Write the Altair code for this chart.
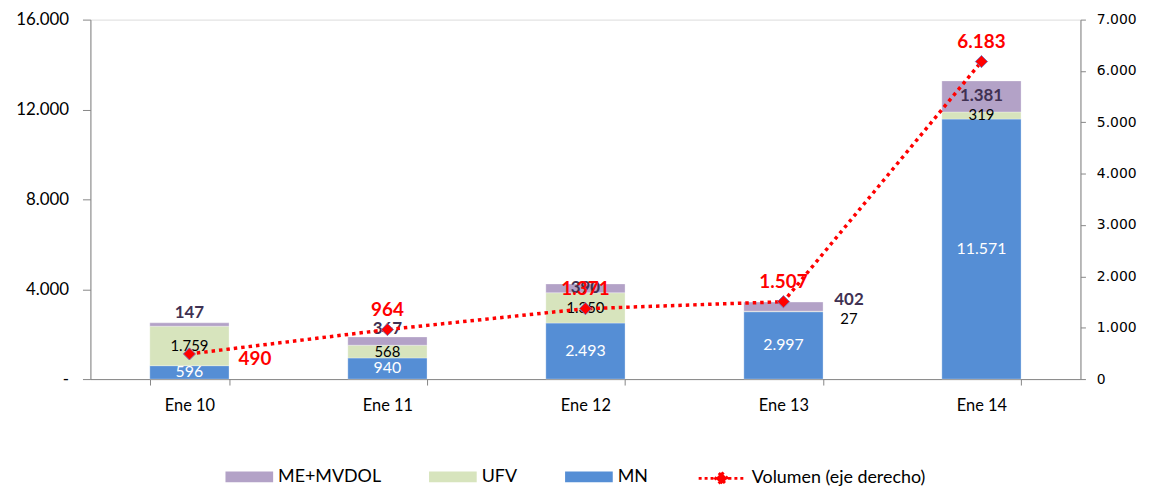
import altair as alt
import pandas as pd

categories = ["Ene 10", "Ene 11", "Ene 12", "Ene 13", "Ene 14"]
mn = [596, 940, 2493, 2997, 11571]
ufv = [1759, 568, 1350, 27, 319]
me = [147, 367, 390, 402, 1381]
volumen = [490, 964, 1371, 1507, 6183]
series_names = ["ME+MVDOL", "UFV", "MN"]
series_colors = ["#b3a2c7", "#d7e4bd", "#558ed5"]
line_name = "Volumen (eje derecho)"
left_ticks = [0, 4000, 8000, 12000, 16000]
right_ticks = [0, 1000, 2000, 3000, 4000, 5000, 6000, 7000]


def fmt(v):
    return f"{v:,}".replace(",", ".")


rows = []
for i, c in enumerate(categories):
    base = 0
    for name, vals, order in [("MN", mn, 0), ("UFV", ufv, 1), ("ME+MVDOL", me, 2)]:
        v = vals[i]
        rows.append(dict(cat=c, serie=name, value=v, y0=base, y1=base + v,
                         mid=base + v / 2, ord=order, label=fmt(v)))
        base += v
bars_df = pd.DataFrame(rows)
line_df = pd.DataFrame({"cat": categories, "vol": volumen,
                        "label": [fmt(v) for v in volumen],
                        "s": [line_name] * len(categories)})

FONT = "Lato"
xscale = alt.Scale(domain=categories, paddingInner=0.6, paddingOuter=0.3)
x_enc = alt.X("cat:N", scale=xscale, sort=categories,
              axis=alt.Axis(title=None, labelAngle=0, tickBand="extent", tickSize=6,
                            domainColor="#868686", tickColor="#868686",
                            labelFont=FONT, labelFontSize=16.5, labelColor="#000000",
                            labelPadding=13))
yl_scale = alt.Scale(domain=[0, 16000], nice=False)
yr_scale = alt.Scale(domain=[0, 7000], nice=False)

base_b = alt.Chart(bars_df)
bar = base_b.mark_bar(stroke="#ffffff", strokeWidth=0.5, strokeOpacity=0.6).encode(
    x=x_enc,
    y=alt.Y("y0:Q", scale=yl_scale,
            axis=alt.Axis(title=None, values=left_ticks, grid=False, tickSize=8,
                          domainColor="#868686", tickColor="#868686",
                          labelFont=FONT, labelFontSize=17, labelColor="#000000",
                          labelPadding=14,
                          labelExpr="datum.value == 0 ? '-' : replace(format(datum.value, ','), ',', '.')")),
    y2="y1:Q",
    color=alt.Color("serie:N", scale=alt.Scale(domain=series_names, range=series_colors),
                    legend=alt.Legend(title=None, orient="none", direction="horizontal",
                                      legendX=136, legendY=436.5,
                                      symbolType="M-1,-0.229H1V0.229H-1Z", symbolSize=2304,
                                      symbolStrokeWidth=0, symbolOpacity=1,
                                      labelFont=FONT, labelFontSize=18, labelColor="#000000",
                                      labelOffset=5, columnPadding=48, labelLimit=300)),
    order=alt.Order("ord:Q"),
)

mn_text = base_b.transform_filter(alt.datum.serie == "MN").mark_text(
    font=FONT, fontSize=16, color="#ffffff").encode(
    x=alt.X("cat:N", scale=xscale, sort=categories),
    y=alt.Y("mid:Q", title=None), text="label:N")

ufv_text = base_b.transform_filter(
    (alt.datum.serie == "UFV") & (alt.datum.cat != "Ene 13")).mark_text(
    font=FONT, fontSize=15, color="#000000").encode(
    x=alt.X("cat:N", scale=xscale, sort=categories),
    y=alt.Y("mid:Q", title=None), text="label:N")

ufv_text_side = base_b.transform_filter(
    (alt.datum.serie == "UFV") & (alt.datum.cat == "Ene 13")).mark_text(
    font=FONT, fontSize=15, color="#000000", dx=66, dy=8).encode(
    x=alt.X("cat:N", scale=xscale, sort=categories),
    y=alt.Y("mid:Q", title=None), text="label:N")

me_text_mid = base_b.transform_filter(
    (alt.datum.serie == "ME+MVDOL") & ((alt.datum.cat == "Ene 12") | (alt.datum.cat == "Ene 14"))).mark_text(
    font=FONT, fontSize=17, fontWeight="bold", color="#403152").encode(
    x=alt.X("cat:N", scale=xscale, sort=categories),
    y=alt.Y("mid:Q", title=None), text="label:N")

me_text_up = base_b.transform_filter(
    (alt.datum.serie == "ME+MVDOL") & ((alt.datum.cat == "Ene 10") | (alt.datum.cat == "Ene 11"))).mark_text(
    font=FONT, fontSize=17, fontWeight="bold", color="#403152", dy=-12).encode(
    x=alt.X("cat:N", scale=xscale, sort=categories),
    y=alt.Y("mid:Q", title=None), text="label:N")

me_text_side = base_b.transform_filter(
    (alt.datum.serie == "ME+MVDOL") & (alt.datum.cat == "Ene 13")).mark_text(
    font=FONT, fontSize=17, fontWeight="bold", color="#403152", dx=66, dy=-7).encode(
    x=alt.X("cat:N", scale=xscale, sort=categories),
    y=alt.Y("mid:Q", title=None), text="label:N")

bar_layer = alt.layer(bar, mn_text, ufv_text, ufv_text_side, me_text_mid, me_text_up, me_text_side)

base_l = alt.Chart(line_df)
line = base_l.mark_line(strokeDash=[3.5, 4], strokeWidth=3.5).encode(
    x=alt.X("cat:N", scale=xscale, sort=categories),
    y=alt.Y("vol:Q", scale=yr_scale,
            axis=alt.Axis(title=None, orient="right", values=right_ticks, grid=False, tickSize=5,
                          domainColor="#868686", tickColor="#868686",
                          labelFont="DejaVu Sans", labelFontSize=14, labelColor="#000000",
                          labelPadding=11,
                          labelExpr="replace(format(datum.value, ','), ',', '.')")),
    color=alt.Color("s:N", scale=alt.Scale(domain=[line_name], range=["#ff0000"]),
                    legend=alt.Legend(title=None, orient="none", legendX=611, legendY=437.5,
                                      symbolType="M-1,0H1M0,-0.26L0.26,0L0,0.26L-0.26,0Z",
                                      symbolSize=2116, symbolFillColor="#ff0000",
                                      symbolStrokeColor="#ff0000", symbolStrokeWidth=3,
                                      symbolDash=[3, 3], labelLimit=300,
                                      labelFont=FONT, labelFontSize=18, labelColor="#000000",
                                      labelOffset=6)),
)
pts = base_l.mark_point(shape="diamond", filled=True, size=150, fill="#ff0000",
                        stroke="#7f6fb0", strokeWidth=1, opacity=1).encode(
    x=alt.X("cat:N", scale=xscale, sort=categories),
    y=alt.Y("vol:Q", title=None))
vol_text = base_l.transform_filter(alt.datum.cat != "Ene 10").mark_text(
    font=FONT, fontSize=19, fontWeight="bold", color="#ff0000", dy=-20).encode(
    x=alt.X("cat:N", scale=xscale, sort=categories),
    y=alt.Y("vol:Q", title=None), text="label:N")
vol_text_first = base_l.transform_filter(alt.datum.cat == "Ene 10").mark_text(
    font=FONT, fontSize=19, fontWeight="bold", color="#ff0000", dx=66, dy=5).encode(
    x=alt.X("cat:N", scale=xscale, sort=categories),
    y=alt.Y("vol:Q", title=None), text="label:N")

line_layer = alt.layer(line, pts, vol_text, vol_text_first)

chart = alt.layer(bar_layer, line_layer).resolve_scale(
    y="independent", color="independent"
).properties(
    width=997, height=362,
    autosize=alt.AutoSizeParams(type="none"),
    padding={"left": 83, "top": 10, "right": 67, "bottom": 109},
).configure_view(stroke=None).configure(background="#ffffff")

chart.save("out.html", embed_options={"renderer": "svg", "actions": False})
